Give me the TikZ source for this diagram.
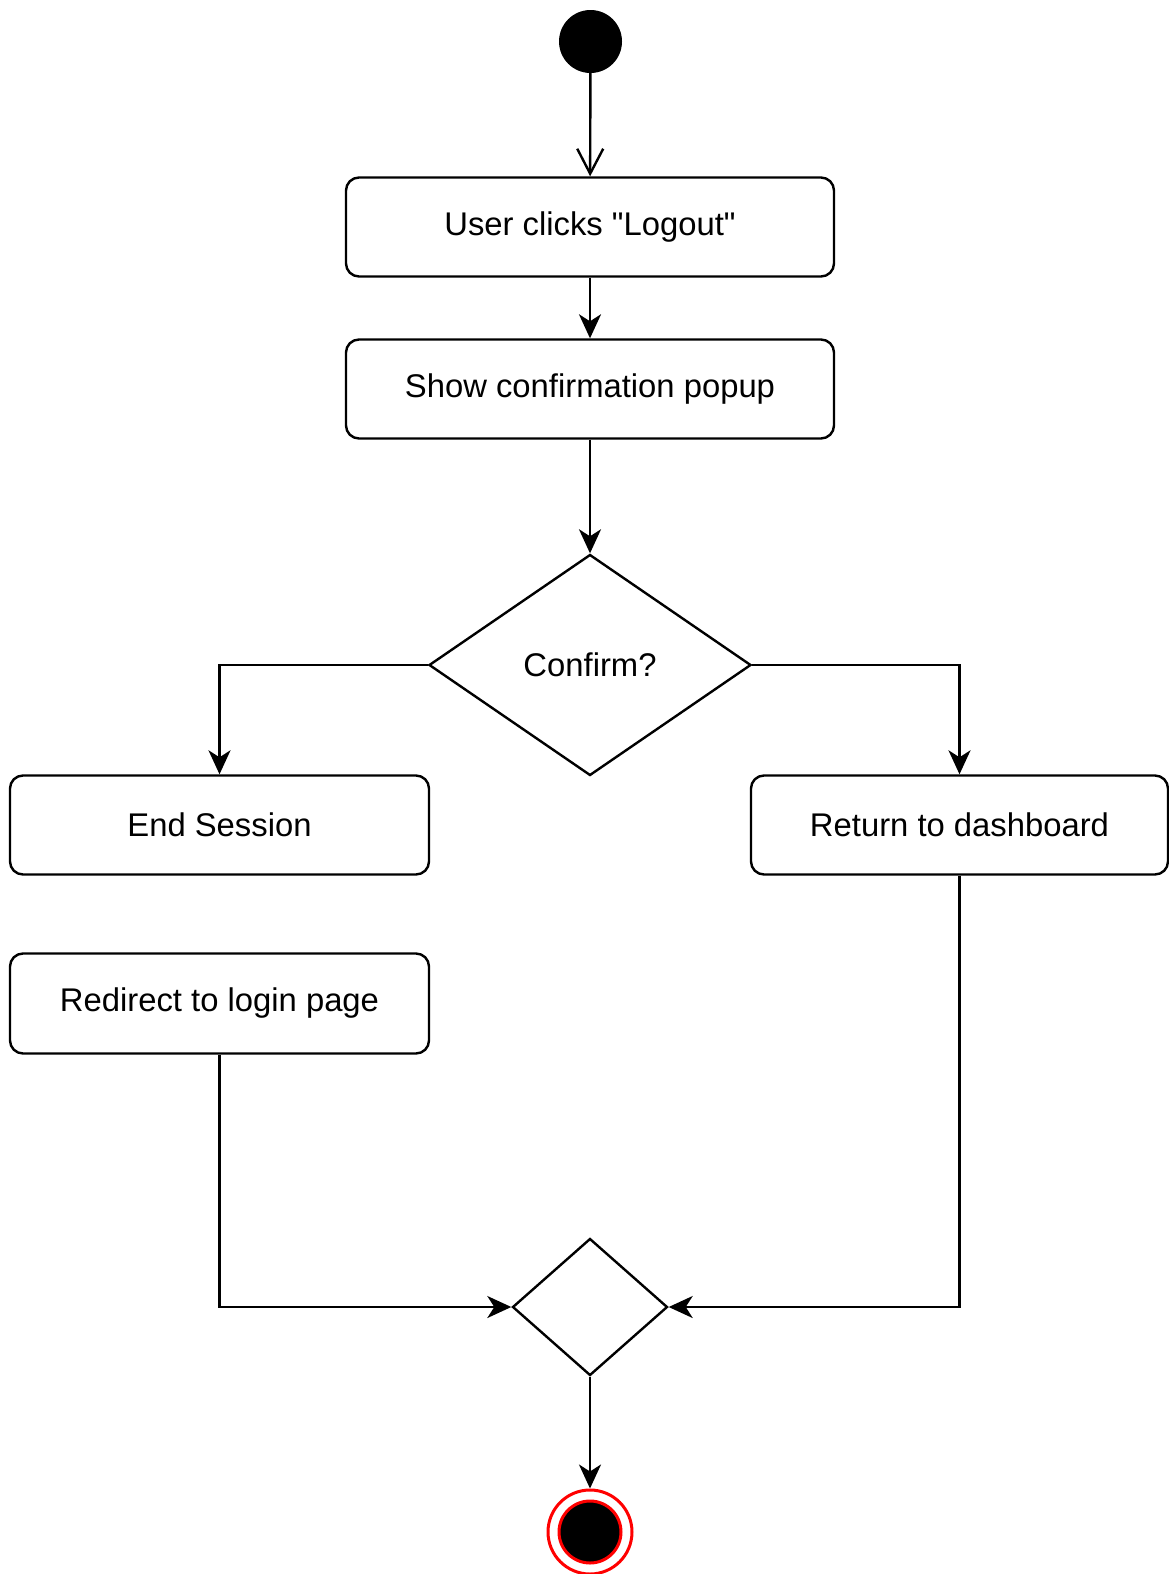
\documentclass[tikz,border=0pt]{standalone}
\usepackage{fontspec}
\setmainfont{Liberation Sans}[Ligatures=TeXOff]
\usetikzlibrary{shapes.geometric,arrows.meta}
\begin{document}
\begin{tikzpicture}[x=1pt,y=-1pt,
  every node/.style={font=\fontsize{32.8}{40}\selectfont},
  line/.style={line width=2.4pt,draw=black},
  action/.style={line, rectangle, rounded corners=13pt, minimum height=99pt, inner sep=0pt},
  decision/.style={line, diamond, inner sep=0pt},
  flow/.style={line, -{Stealth[length=24pt,width=22pt,inset=7pt]}},
  openflow/.style={line, -{Straight Barb[length=25pt,width=26pt]}}]
\useasboundingbox (0,0) rectangle (1169,1574);

% start and end states
\node[circle, fill=black, minimum size=63pt, inner sep=0pt] (start) at (590.5,41.5) {};
\node[circle, fill=white, draw=red, line width=3pt, minimum size=84pt, inner sep=0pt] (final) at (590,1532) {};
\node[circle, fill=black, draw=red, line width=3pt, minimum size=62pt, inner sep=0pt] (finaldot) at (590,1532) {};

% actions
\node[action, minimum width=488pt] (click) at (590,227) {User clicks "Logout"};
\node[action, minimum width=488pt] (popup) at (590,389) {Show confirmation popup};
\node[action, minimum width=419pt] (endsess) at (219.5,825) {End Session};
\node[action, minimum width=417pt] (dash) at (959.5,825) {Return to dashboard};
\node[action, minimum width=419pt, minimum height=100pt] (redirect) at (219.5,1003.5) {Redirect to login page};

% decision and merge
\node[decision, minimum width=322pt, minimum height=221pt] (confirm) at (590,665) {Confirm?};
\node[decision, minimum width=155pt, minimum height=137pt] (merge) at (590,1307) {};

% connectors
\draw[openflow] (start) -- (click);
\draw[flow] (click) -- (popup);
\draw[flow] (popup) -- (confirm);
\draw[flow] (confirm.west) -| (endsess.north);
\draw[flow] (confirm.east) -| (dash.north);
\draw[flow] (redirect.south) |- (merge.west);
\draw[flow] (dash.south) |- (merge.east);
\draw[flow] (merge.south) -- (final.north);
\end{tikzpicture}
\end{document}
